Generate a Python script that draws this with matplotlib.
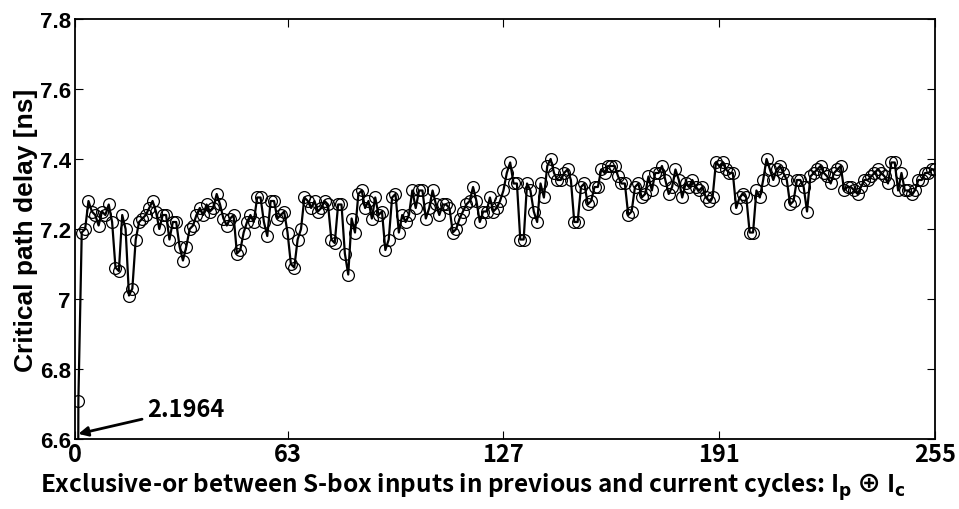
import matplotlib
matplotlib.use("Agg")
import matplotlib.pyplot as plt
import numpy as np

plt.rcParams['font.family'] = ['Noto Sans CJK JP', 'DejaVu Sans']
plt.rcParams['font.weight'] = 'bold'
plt.rcParams['mathtext.default'] = 'bf'

# delay for each XOR value 0..255 (value at 0 is far below the axis)
delay = [
    2.1964, 6.71, 7.19, 7.20, 7.28, 7.25, 7.24, 7.21, 7.25, 7.24,
    7.27, 7.22, 7.09, 7.08, 7.24, 7.20, 7.01, 7.03, 7.17, 7.22,
    7.23, 7.24, 7.26, 7.28, 7.25, 7.20, 7.24, 7.24, 7.17, 7.22,
    7.22, 7.15, 7.11, 7.15, 7.20, 7.21, 7.24, 7.26, 7.24, 7.27,
    7.25, 7.26, 7.30, 7.27, 7.23, 7.21, 7.23, 7.24, 7.13, 7.14,
    7.19, 7.22, 7.24, 7.22, 7.29, 7.29, 7.22, 7.18, 7.28, 7.28,
    7.23, 7.24, 7.25, 7.19, 7.10, 7.09, 7.17, 7.20, 7.29, 7.28,
    7.26, 7.28, 7.25, 7.26, 7.28, 7.27, 7.17, 7.16, 7.27, 7.27,
    7.13, 7.07, 7.23, 7.19, 7.30, 7.31, 7.26, 7.28, 7.23, 7.29,
    7.24, 7.25, 7.14, 7.17, 7.29, 7.30, 7.19, 7.24, 7.22, 7.24,
    7.31, 7.26, 7.31, 7.31, 7.23, 7.26, 7.31, 7.27, 7.24, 7.27,
    7.27, 7.26, 7.19, 7.20, 7.23, 7.25, 7.27, 7.28, 7.32, 7.28,
    7.22, 7.25, 7.25, 7.29, 7.25, 7.26, 7.28, 7.31, 7.36, 7.39,
    7.33, 7.33, 7.17, 7.17, 7.33, 7.31, 7.25, 7.22, 7.33, 7.29,
    7.38, 7.40, 7.36, 7.34, 7.34, 7.36, 7.37, 7.34, 7.22, 7.22,
    7.32, 7.33, 7.27, 7.28, 7.32, 7.32, 7.37, 7.36, 7.38, 7.38,
    7.38, 7.35, 7.33, 7.33, 7.24, 7.25, 7.32, 7.33, 7.29, 7.30,
    7.35, 7.31, 7.36, 7.36, 7.38, 7.34, 7.30, 7.32, 7.37, 7.34,
    7.29, 7.33, 7.32, 7.34, 7.32, 7.31, 7.32, 7.29, 7.28, 7.29,
    7.39, 7.38, 7.39, 7.37, 7.36, 7.36, 7.26, 7.29, 7.30, 7.29,
    7.19, 7.19, 7.31, 7.29, 7.34, 7.40, 7.37, 7.34, 7.37, 7.38,
    7.36, 7.34, 7.27, 7.28, 7.34, 7.34, 7.32, 7.25, 7.35, 7.36,
    7.37, 7.38, 7.36, 7.35, 7.33, 7.36, 7.37, 7.38, 7.31, 7.32,
    7.32, 7.31, 7.30, 7.32, 7.34, 7.34, 7.35, 7.36, 7.37, 7.36,
    7.35, 7.33, 7.39, 7.39, 7.31, 7.36, 7.31, 7.31, 7.30, 7.31,
    7.34, 7.34, 7.36, 7.36, 7.37, 7.37,
]
xor_val = np.arange(len(delay))
xticks = [0, 63, 127, 191, 255]
yticks = [6.6, 6.8, 7.0, 7.2, 7.4, 7.6, 7.8]
ytick_labels = ["6.6", "6.8", "7", "7.2", "7.4", "7.6", "7.8"]

fig = plt.figure(figsize=(9.59, 5.10), dpi=100)
ax = fig.add_axes([0.0782, 0.137, 0.897, 0.824])

ax.plot(xor_val, delay, color="black", lw=1.6, marker="o", ms=8.5,
        mfc="none", mec="black", mew=0.9)

ax.set_xlim(0, 255)
ax.set_ylim(6.6, 7.8)
ax.set_xticks(xticks)
ax.set_yticks(yticks)
ax.set_yticklabels(ytick_labels)
ax.tick_params(direction="in", top=True, right=True, length=6, width=0.8)
ax.tick_params(axis="x", labelsize=17, pad=2)
ax.tick_params(axis="y", labelsize=16, pad=3)
for lab in ax.get_xticklabels():
    lab.set_fontweight("bold")
for lab in ax.get_yticklabels():
    lab.set_fontweight("bold")
    lab.set_family(["Liberation Sans", "DejaVu Sans"])
for s in ax.spines.values():
    s.set_linewidth(1.3)

ax.set_ylabel("Critical path delay [ns]", fontsize=19, fontweight="bold", labelpad=1,
              family=["Liberation Sans", "DejaVu Sans"])
ax.set_xlabel("Exclusive-or between S-box inputs in previous and current cycles: I$_\\mathbf{p}$ \u2295 I$_\\mathbf{c}$",
              fontsize=17.5, fontweight="bold")
ax.xaxis.set_label_coords(0.462, -0.075)

ax.annotate("2.1964", xy=(1.0, 6.615), xytext=(21.5, 6.686),
            fontsize=17, fontweight="bold", va="center", ha="left",
            arrowprops=dict(arrowstyle="-|>", color="black", lw=2.0, mutation_scale=14,
                            shrinkA=2, shrinkB=0))

fig.savefig("out.png", dpi=100)
